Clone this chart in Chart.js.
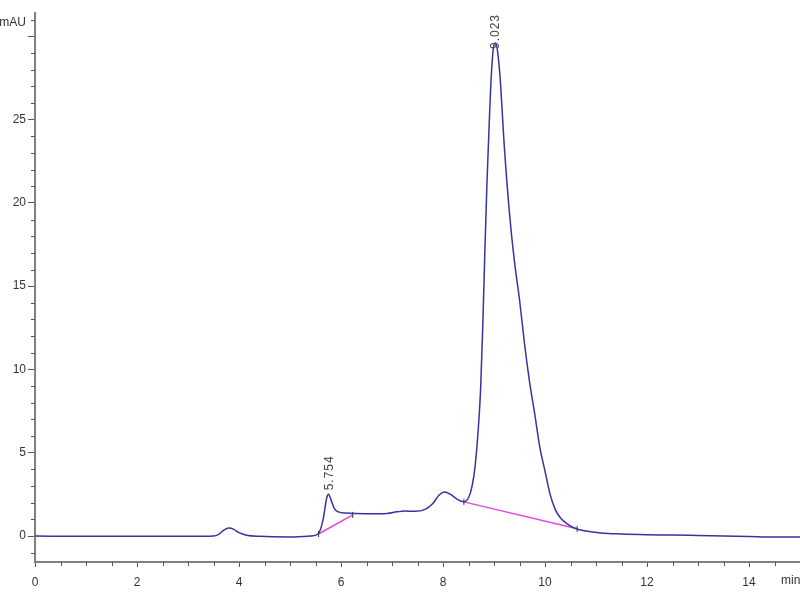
<!DOCTYPE html>
<html>
<head>
<meta charset="utf-8">
<script src="https://cdn.jsdelivr.net/npm/chart.js@4/dist/chart.umd.min.js"></script>
<style>
html,body{margin:0;padding:0;background:#fff;}
#wrap{width:800px;height:600px;position:relative;}
</style>
</head>
<body>
<div id="wrap"><canvas id="c" width="800" height="600"></canvas></div>
<script>
// Retention time (min) and absorbance (mAU)
const timeMin = [0, 1, 2, 3, 3.5, 3.6, 3.7, 3.8, 3.9, 4.0, 4.15, 4.4, 5.0, 5.4, 5.55, 5.65, 5.72, 5.76, 5.8, 5.87, 5.95, 6.1, 6.3, 6.6, 6.9, 7.1, 7.25, 7.45, 7.65, 7.8, 7.92, 8.03, 8.15, 8.28, 8.4, 8.5, 8.57, 8.63, 8.7, 8.74, 8.78, 8.82, 8.86, 8.9, 8.95, 9.0, 9.03, 9.07, 9.12, 9.2, 9.3, 9.4, 9.5, 9.6, 9.7, 9.8, 9.9, 10.0, 10.1, 10.2, 10.3, 10.45, 10.6, 10.8, 11.1, 11.5, 12, 12.5, 13, 13.5, 14, 14.5, 15];
const signalMAU = [0, -0.02, -0.02, -0.02, 0.0, 0.1, 0.35, 0.48, 0.4, 0.2, 0.05, -0.02, -0.06, 0.0, 0.12, 1.0, 2.3, 2.5, 2.2, 1.65, 1.45, 1.38, 1.35, 1.33, 1.35, 1.45, 1.5, 1.48, 1.6, 1.95, 2.45, 2.65, 2.5, 2.2, 2.05, 2.3, 3.0, 4.2, 6.8, 9.0, 12.6, 17.0, 21.0, 24.3, 27.8, 29.5, 29.6, 29.1, 27.5, 23.5, 19.5, 16.5, 14.2, 11.5, 9.2, 7.3, 5.3, 3.9, 2.5, 1.6, 1.1, 0.7, 0.45, 0.3, 0.18, 0.12, 0.08, 0.06, 0.03, 0.0, -0.03, -0.06, -0.06];

// Integration baselines (start/end time and level)
const baseline1Time = [5.56, 6.23];
const baseline1MAU = [0.12, 1.27];
const baseline2Time = [8.41, 10.63];
const baseline2MAU = [2.05, 0.43];

// Peak annotations
const peakLabels = ['5.754', '9.023'];
const peakTimes = [5.754, 9.023];
const peakMAU = [2.5, 29.6];

// Axis ticks
const xMajorTicks = [0, 2, 4, 6, 8, 10, 12, 14];
const yMajorTicks = [0, 5, 10, 15, 20, 25, 30];
const yLabelTicks = [0, 5, 10, 15, 20, 25];

const FONT = "'Liberation Sans', Arial, sans-serif";

const toXY = (xs, ys) => xs.map((x, i) => ({x: x, y: ys[i]}));

const extras = {
  id: 'extras',
  afterDraw(chart) {
    const ctx = chart.ctx;
    const xs = chart.scales.x, ys = chart.scales.y;
    ctx.save();
    // minor ticks
    ctx.strokeStyle = '#555';
    ctx.lineWidth = 1;
    ctx.beginPath();
    for (let v = -1; v <= 31; v++) {
      if (yMajorTicks.includes(v)) continue;
      const py = Math.round(ys.getPixelForValue(v)) + 0.5;
      ctx.moveTo(xs.left - 4, py); ctx.lineTo(xs.left, py);
    }
    for (let v = 0.5; v <= 15; v += 1) {
      const px = Math.round(xs.getPixelForValue(v)) + 0.5;
      ctx.moveTo(px, ys.bottom); ctx.lineTo(px, ys.bottom + 4);
    }
    for (let v = 1; v <= 15; v += 2) {
      const px = Math.round(xs.getPixelForValue(v)) + 0.5;
      ctx.moveTo(px, ys.bottom); ctx.lineTo(px, ys.bottom + 4);
    }
    ctx.stroke();
    // axis unit labels
    ctx.fillStyle = '#333';
    ctx.font = '12px ' + FONT;
    ctx.textBaseline = 'middle';
    ctx.textAlign = 'right';
    ctx.fillText('mAU', 26, ys.getPixelForValue(31) + 3);
    ctx.textAlign = 'left';
    ctx.fillText('min', 781, 581);
    // peak labels
    ctx.fillStyle = '#444';
    ctx.font = '12px ' + FONT;
    if ('letterSpacing' in ctx) ctx.letterSpacing = '1px';
    const offs = [4, -6];
    peakLabels.forEach((lab, i) => {
      const px = xs.getPixelForValue(peakTimes[i]) + 1;
      const py = ys.getPixelForValue(peakMAU[i]) - offs[i];
      ctx.save();
      ctx.translate(px, py);
      ctx.rotate(-Math.PI / 2);
      ctx.textAlign = 'left';
      ctx.textBaseline = 'middle';
      ctx.fillText(lab, 0, 0);
      ctx.restore();
    });
    ctx.restore();
  }
};

new Chart(document.getElementById('c'), {
  type: 'line',
  data: {
    datasets: [
      {
        data: toXY(timeMin, signalMAU),
        borderColor: '#3434a2',
        borderWidth: 1.5,
        pointRadius: 0,
        cubicInterpolationMode: 'monotone',
        order: 1
      },
      {
        data: toXY(baseline1Time, baseline1MAU),
        borderColor: '#e048d8',
        borderWidth: 1.5,
        pointStyle: 'line',
        rotation: 90,
        pointRadius: 3,
        pointBorderColor: '#333',
        pointBorderWidth: 1,
        order: 2
      },
      {
        data: toXY(baseline2Time, baseline2MAU),
        borderColor: '#e048d8',
        borderWidth: 1.5,
        pointStyle: 'line',
        rotation: 90,
        pointRadius: 3,
        pointBorderColor: '#333',
        pointBorderWidth: 1,
        order: 2
      }
    ]
  },
  options: {
    responsive: false,
    animation: false,
    layout: {autoPadding: false, padding: {top: 13, left: 0, right: 0, bottom: 0}},
    plugins: {legend: {display: false}, tooltip: {enabled: false}},
    scales: {
      x: {
        type: 'linear',
        min: 0, max: 15,
        afterBuildTicks: s => { s.ticks = xMajorTicks.map(v => ({value: v})); },
        afterFit: s => { s.height = 38; },
        grid: {drawOnChartArea: false, tickLength: 5, tickColor: '#555', tickWidth: 1},
        border: {display: true, color: '#808080', width: 2},
        ticks: {color: '#333', font: {family: FONT, size: 12}, padding: 8, maxRotation: 0, callback: v => String(v)}
      },
      y: {
        type: 'linear',
        min: -1.56, max: 31.4,
        afterBuildTicks: s => { s.ticks = yMajorTicks.map(v => ({value: v})); },
        afterFit: s => { s.width = 35; },
        grid: {drawOnChartArea: false, tickLength: 7, tickColor: '#555', tickWidth: 1},
        border: {display: true, color: '#808080', width: 2},
        ticks: {color: '#333', font: {family: FONT, size: 12}, padding: 2,
          callback: v => yLabelTicks.includes(v) ? String(v) : ''}
      }
    }
  },
  plugins: [extras]
});
</script>
</body>
</html>
